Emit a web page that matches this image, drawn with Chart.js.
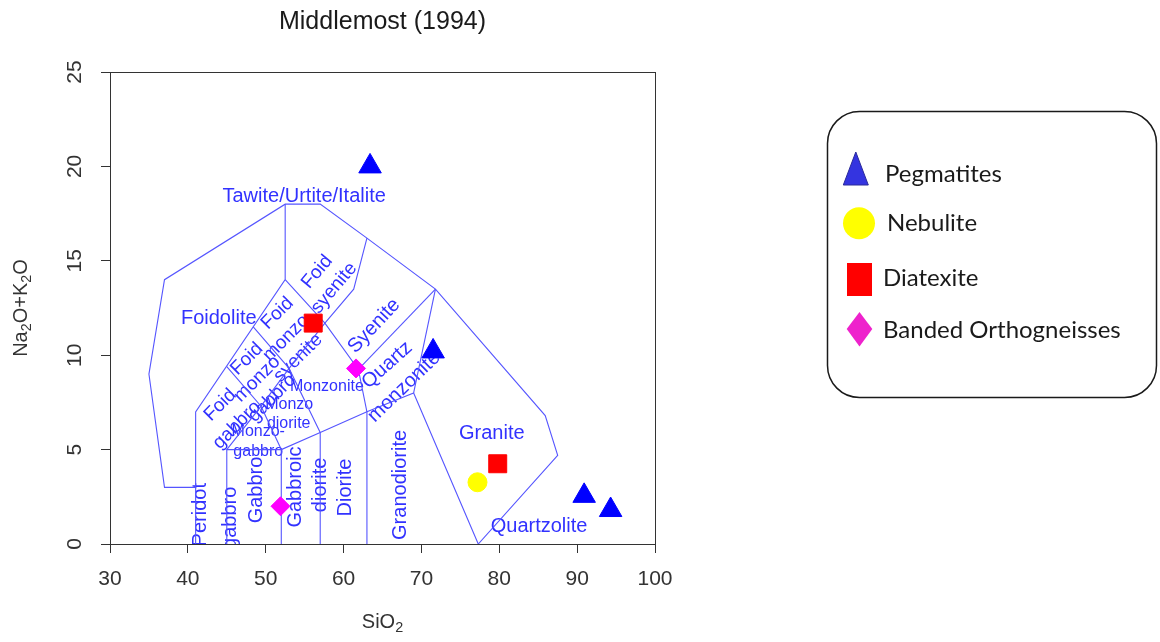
<!DOCTYPE html>
<html>
<head>
<meta charset="utf-8">
<script src="https://cdn.jsdelivr.net/npm/chart.js@4.4.1/dist/chart.umd.min.js"></script>
<style>
  html, body { margin: 0; padding: 0; background: #ffffff; }
  #wrap { width: 1160px; height: 642px; }
</style>
</head>
<body>
<div id="wrap"><canvas id="c" width="1160" height="642"></canvas></div>
<script>
// ---- axis ticks ----
const xTicks = [30, 40, 50, 60, 70, 80, 90, 100];
const yTicks = [0, 5, 10, 15, 20, 25];

// ---- samples (SiO2, Na2O+K2O) ----
const pegmatites = [[63.4, 20.0], [71.5, 10.2], [90.9, 2.55], [94.3, 1.8]];
const nebulite = [[77.2, 3.27]];
const diatexite = [[56.1, 11.7], [79.8, 4.25]];
const bandedOrthogneisses = [[61.6, 9.3], [51.9, 2.0]];

// ---- plutonic TAS field boundaries (Middlemost 1994) ----
const outerBoundary = [[41, 3], [37, 3], [35, 9], [37, 14], [52.5, 18], [57, 18], [63, 16.2], [71.8, 13.5], [85.9, 6.8], [87.5, 4.7], [77.3, 0]];
const foidBand = [[41, 0], [41, 7], [52.5, 14], [52.5, 18]];
const lowerBand = [[45, 0], [45, 5], [52, 5], [57, 5.9], [63, 7], [69, 8], [77.3, 0]];
const gabbroRight = [[52, 0], [52, 5]];
const gabbroicDioriteRight = [[57, 0], [57, 5.9]];
const dioriteRight = [[63, 0], [63, 7]];
const graniteLeft = [[69, 8], [71.8, 13.5]];
const foidGabbroTop = [[45, 9.4], [49.4, 7.3], [45, 5]];
const monzogabbroTop = [[49.4, 7.3], [52, 5]];
const foidMonzogabbroTop = [[48.4, 11.5], [53, 9.3], [57, 5.9]];
const monzodioriteTop = [[49.4, 7.3], [53, 9.3], [57.6, 11.7]];
const foidMonzosyeniteTop = [[52.5, 14], [57.6, 11.7], [61.9, 9.25], [63, 7]];
const foidSyeniteRight = [[57.6, 11.7], [61.3, 13.5], [63, 16.2]];
const quartzMonzoniteTop = [[71.8, 13.5], [61.9, 9.25]];

const boundaries = [outerBoundary, foidBand, lowerBand, gabbroRight, gabbroicDioriteRight,
  dioriteRight, graniteLeft, foidGabbroTop, monzogabbroTop, foidMonzogabbroTop,
  monzodioriteTop, foidMonzosyeniteTop, foidSyeniteRight, quartzMonzoniteTop];

// ---- field names ----
const fieldNames = ['Tawite/Urtite/Italite', 'Foidolite', 'Granite', 'Quartzolite', 'Granodiorite',
  'Diorite', 'Gabbroic', 'diorite', 'Gabbro', 'Peridot', 'gabbro', 'Monzo-', 'gabbro', 'Monzo', 'diorite',
  'Monzonite', 'Foid', 'gabbro', 'Foid', 'monzo', 'gabbro', 'Foid', 'monzo', 'syenite', 'Foid', 'syenite',
  'Syenite', 'Quartz', 'monzonite'];

// where each field name sits (data units), its angle and its size
const labelLayout = [
  { x: 54.94, y: 18.41, rot: 0, size: 20 },
  { x: 43.97, y: 11.92, rot: 0, size: 20 },
  { x: 79.04, y: 5.88, rot: 0, size: 20 },
  { x: 85.11, y: 0.95, rot: 0, size: 20 },
  { x: 67.27, y: 3.13, rot: -90, size: 20 },
  { x: 60.2, y: 2.99, rot: -90, size: 20 },
  { x: 53.79, y: 3.02, rot: -90, size: 20 },
  { x: 57.0, y: 3.13, rot: -90, size: 20 },
  { x: 48.87, y: 2.86, rot: -90, size: 20 },
  { x: 41.59, y: 1.55, rot: -90, size: 20 },
  { x: 45.44, y: 1.39, rot: -90, size: 20 },
  { x: 49.04, y: 5.93, rot: 0, size: 16 },
  { x: 49.04, y: 4.87, rot: 0, size: 16 },
  { x: 53.02, y: 7.36, rot: 0, size: 16 },
  { x: 52.95, y: 6.36, rot: 0, size: 16 },
  { x: 57.86, y: 8.33, rot: 0, size: 16 },
  { x: 44.16, y: 7.36, rot: -45, size: 19 },
  { x: 46.30, y: 6.30, rot: -45, size: 19 },
  { x: 47.59, y: 9.80, rot: -45, size: 19 },
  { x: 48.91, y: 8.74, rot: -45, size: 19 },
  { x: 50.83, y: 7.73, rot: -45, size: 19 },
  { x: 51.51, y: 12.22, rot: -45, size: 19 },
  { x: 52.63, y: 10.91, rot: -45, size: 19 },
  { x: 54.17, y: 9.85, rot: -45, size: 19 },
  { x: 56.61, y: 14.41, rot: -50, size: 19 },
  { x: 58.79, y: 13.56, rot: -50, size: 19 },
  { x: 63.93, y: 11.55, rot: -47, size: 20 },
  { x: 65.6, y: 9.48, rot: -42, size: 20 },
  { x: 67.78, y: 8.32, rot: -44, size: 20 }
];

const legendNames = ['Pegmatites', 'Nebulite', 'Diatexite', 'Banded Orthogneisses'];

const SANS = '"Liberation Sans", Arial, sans-serif';
const FIELD_TEXT = '#3232ff';
const FIELD_LINE = '#5555ff';
const AXIS = '#333333';

const toXY = arr => arr.map(p => ({ x: p[0], y: p[1] }));

const sampleSets = [
  { label: legendNames[0], data: toXY(pegmatites), pointStyle: 'triangle', pointRadius: 13,
    backgroundColor: '#0000ff', borderColor: '#0000ff', pointBorderWidth: 1 },
  { label: legendNames[1], data: toXY(nebulite), pointStyle: 'circle', pointRadius: 9.5,
    backgroundColor: '#ffff00', borderColor: '#ffff00', pointBorderWidth: 1 },
  { label: legendNames[2], data: toXY(diatexite), pointStyle: 'rect', pointRadius: 12.7,
    backgroundColor: '#ff0000', borderColor: '#ff0000', pointBorderWidth: 1 },
  { label: legendNames[3], data: toXY(bandedOrthogneisses), pointStyle: 'rectRot', pointRadius: 9.5,
    backgroundColor: '#ff00ff', borderColor: '#ff00ff', pointBorderWidth: 1 }
].map(d => Object.assign(d, { showLine: false, pointHoverRadius: d.pointRadius }));

const boundarySets = boundaries.map(b => ({
  data: toXY(b), showLine: true, fill: false, pointRadius: 0, pointHoverRadius: 0,
  borderColor: FIELD_LINE, borderWidth: 1.1, tension: 0
}));

function subscriptedWidth(ctx, parts, size) {
  let w = 0;
  for (const [t, sub] of parts) {
    ctx.font = `${sub ? size * 0.72 : size}px ${SANS}`;
    w += ctx.measureText(t).width;
  }
  return w;
}
function drawSubscripted(ctx, parts, size, cx, cy) {
  const w = subscriptedWidth(ctx, parts, size);
  let x = cx - w / 2;
  ctx.textAlign = 'left';
  ctx.textBaseline = 'middle';
  for (const [t, sub] of parts) {
    ctx.font = `${sub ? size * 0.72 : size}px ${SANS}`;
    ctx.fillText(t, x, sub ? cy + size * 0.3 : cy);
    x += ctx.measureText(t).width;
  }
}

const tasPlugin = {
  id: 'tasDecor',
  beforeDatasetsDraw(chart) {
    const { ctx, chartArea: a, scales: { x, y } } = chart;
    ctx.save();
    ctx.beginPath();
    ctx.rect(a.left, a.top, a.right - a.left, a.bottom - a.top);
    ctx.clip();
    ctx.fillStyle = FIELD_TEXT;
    ctx.textAlign = 'center';
    ctx.textBaseline = 'middle';
    fieldNames.forEach((name, i) => {
      const L = labelLayout[i];
      ctx.save();
      ctx.translate(x.getPixelForValue(L.x), y.getPixelForValue(L.y));
      ctx.rotate(L.rot * Math.PI / 180);
      ctx.font = `${L.size}px ${SANS}`;
      ctx.fillText(name, 0, 0);
      ctx.restore();
    });
    ctx.restore();
  },
  afterDraw(chart) {
    const { ctx, chartArea: a, scales: { y } } = chart;
    ctx.save();
    // plot frame
    ctx.strokeStyle = AXIS;
    ctx.lineWidth = 1;
    ctx.strokeRect(Math.round(a.left) + 0.5, Math.round(a.top) + 0.5,
      Math.round(a.right - a.left), Math.round(a.bottom - a.top));

    // rotated y tick labels
    ctx.fillStyle = AXIS;
    ctx.font = `21px ${SANS}`;
    ctx.textAlign = 'center';
    ctx.textBaseline = 'middle';
    yTicks.forEach(v => {
      ctx.save();
      ctx.translate(75, y.getPixelForValue(v));
      ctx.rotate(-Math.PI / 2);
      ctx.fillText(String(v), 0, 0);
      ctx.restore();
    });

    // title
    ctx.fillStyle = '#1a1a1a';
    ctx.font = `25px ${SANS}`;
    ctx.fillText('Middlemost (1994)', (a.left + a.right) / 2, 22);

    // axis titles
    ctx.fillStyle = AXIS;
    drawSubscripted(ctx, [['SiO', false], ['2', true]], 20, (a.left + a.right) / 2, 622);
    ctx.save();
    ctx.translate(21, (a.top + a.bottom) / 2);
    ctx.rotate(-Math.PI / 2);
    drawSubscripted(ctx, [['Na', false], ['2', true], ['O+K', false], ['2', true], ['O', false]], 20, 0, 0);
    ctx.restore();

    // legend box
    const L = { x: 827, y: 111, w: 329, h: 286, r: 32 };
    ctx.beginPath();
    ctx.roundRect(L.x + 0.5, L.y + 0.5, L.w, L.h, L.r);
    ctx.fillStyle = '#ffffff';
    ctx.fill();
    ctx.strokeStyle = '#1a1a1a';
    ctx.lineWidth = 1.5;
    ctx.stroke();

    // legend symbols
    ctx.lineWidth = 1;
    ctx.beginPath();
    ctx.moveTo(855.8, 152); ctx.lineTo(868.3, 185); ctx.lineTo(843.3, 185); ctx.closePath();
    ctx.fillStyle = '#3434e0'; ctx.fill();
    ctx.strokeStyle = '#2a2a9a'; ctx.stroke();

    ctx.beginPath();
    ctx.arc(859, 223.3, 16, 0, Math.PI * 2);
    ctx.fillStyle = '#ffff00'; ctx.fill();

    ctx.fillStyle = '#ff0000';
    ctx.fillRect(847, 263, 25, 33);

    ctx.beginPath();
    ctx.moveTo(859.5, 312); ctx.lineTo(872.3, 329); ctx.lineTo(859.5, 346.5); ctx.lineTo(846.7, 329); ctx.closePath();
    ctx.fillStyle = '#ee22cc'; ctx.fill();

    // legend text
    ctx.fillStyle = '#1a1a1a';
    ctx.textAlign = 'left';
    ctx.textBaseline = 'middle';
    ctx.font = '24px Lato, "Open Sans", sans-serif';
    const rows = [[885, 174], [887, 223], [883, 278], [883, 330]];
    legendNames.forEach((t, i) => ctx.fillText(t, rows[i][0], rows[i][1]));
    ctx.restore();
  }
};

new Chart(document.getElementById('c'), {
  type: 'scatter',
  data: { datasets: sampleSets.concat(boundarySets) },
  options: {
    responsive: false,
    animation: false,
    devicePixelRatio: 1,
    layout: { padding: { top: 72, right: 505, left: 0, bottom: 0 } },
    plugins: { legend: { display: false }, tooltip: { enabled: false }, title: { display: false } },
    scales: {
      x: {
        type: 'linear', position: 'bottom', min: 30, max: 100,
        afterBuildTicks(s) { s.ticks = xTicks.map(v => ({ value: v })); },
        ticks: { autoSkip: false, maxRotation: 0, color: AXIS, padding: 14,
          font: { size: 21, family: SANS } },
        grid: { drawOnChartArea: false, drawTicks: true, tickLength: 9, color: AXIS, lineWidth: 1 },
        border: { display: true, color: AXIS, width: 1 },
        afterFit(s) { s.height = 98; }
      },
      y: {
        type: 'linear', position: 'left', min: 0, max: 25,
        afterBuildTicks(s) { s.ticks = yTicks.map(v => ({ value: v })); },
        ticks: { display: false },
        grid: { drawOnChartArea: false, drawTicks: true, tickLength: 9, color: AXIS, lineWidth: 1 },
        border: { display: true, color: AXIS, width: 1 },
        afterFit(s) { s.width = 110; }
      }
    }
  },
  plugins: [tasPlugin]
});
</script>
</body>
</html>
